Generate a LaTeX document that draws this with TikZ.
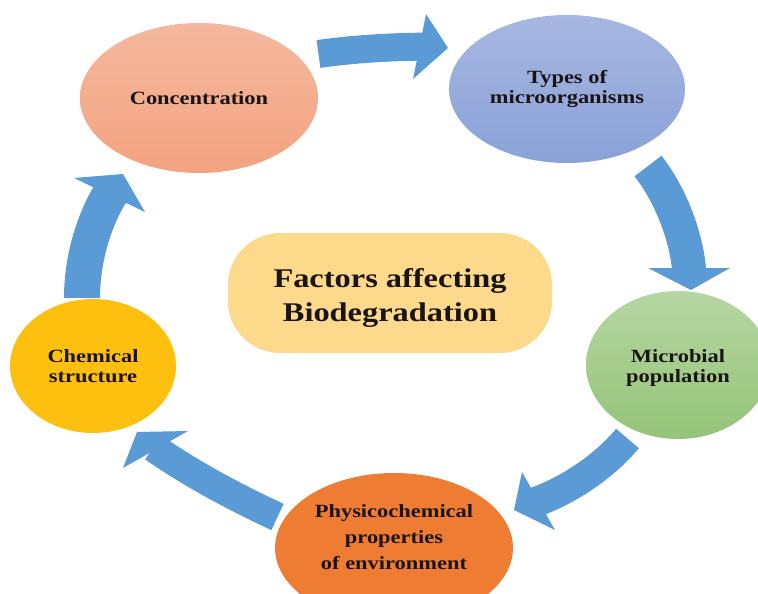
\documentclass[tikz,border=0pt]{standalone}
\usepackage{fontspec}
\setmainfont{Liberation Serif}[FakeStretch=1.2]
\usetikzlibrary{calc,shapes.geometric}

\definecolor{inkc}{HTML}{1A1414}
\definecolor{flowblue}{HTML}{5B9BD5}
\definecolor{concTop}{HTML}{F4B89E}
\definecolor{concBot}{HTML}{F3A37F}
\definecolor{typeTop}{HTML}{A7B7E0}
\definecolor{typeBot}{HTML}{8AA2D8}
\definecolor{chemFill}{HTML}{FEC00E}
\definecolor{microTop}{HTML}{B6D6A3}
\definecolor{microBot}{HTML}{94C478}
\definecolor{physFill}{HTML}{EE7D33}
\definecolor{hubFill}{HTML}{FDD98C}

\begin{document}
\begin{tikzpicture}[x=1pt,y=-1pt,
  bubble/.style={ellipse, inner sep=0pt, align=center, text=inkc,
    font=\bfseries\fontsize{18.7}{20}\selectfont},
  hubbox/.style={rectangle, rounded corners=52pt, fill=hubFill, text=inkc,
    minimum width=324pt, minimum height=120pt, align=center,
    font=\bfseries\fontsize{27}{34}\selectfont},
  flowbody/.style={draw=flowblue, line width=#1},
  flowhead/.style={fill=flowblue}]

\useasboundingbox (0,0) rectangle (758,594);
\clip (0,0) rectangle (758,594);

% arrow 1: Concentration -> Types of microorganisms
\coordinate (a1s) at (318.5,54); \coordinate (a1b) at (419.5,46.5);
\coordinate (a1e) at (448,48);   \coordinate (a1l) at (426,14); \coordinate (a1r) at (413,79);
% arrow 2: Types of microorganisms -> Microbial population
\coordinate (a2s) at (648,166);  \coordinate (a2b) at (689,268);
\coordinate (a2e) at (691,290);  \coordinate (a2l) at (648,268); \coordinate (a2r) at (730,268);
% arrow 3: Microbial population -> Physicochemical properties
\coordinate (a3s) at (627.5,438.5); \coordinate (a3b) at (538.5,501);
\coordinate (a3e) at (514,510);  \coordinate (a3l) at (522,472); \coordinate (a3r) at (555,530);
% arrow 4: Physicochemical properties -> Chemical structure
\coordinate (a4s) at (277.5,517); \coordinate (a4b) at (155.5,449.5);
\coordinate (a4e) at (137,432);  \coordinate (a4l) at (188,431); \coordinate (a4r) at (123,468);
% arrow 5: Chemical structure -> Concentration
\coordinate (a5s) at (82,298);   \coordinate (a5b) at (109.5,195);
\coordinate (a5e) at (123,174);  \coordinate (a5l) at (74,178);  \coordinate (a5r) at (145,212);

% curved bodies (each runs a little into its head)
\draw[flowbody=28pt] (a1s) .. controls +(34,-4.8) and +(-34,0.3) .. ($(a1b)!3pt!(a1e)$);
\draw[flowbody=34pt] (a2s) .. controls +(22.2,28.4) and +(-3.1,-35.9) .. ($(a2b)!3pt!(a2e)$);
\draw[flowbody=30pt] (a3s) .. controls +(-23.1,27.6) and +(33.8,-12.3) .. ($(a3b)!3pt!(a3e)$);
\draw[flowbody=29pt] (a4s) .. controls +(-41.7,-19.4) and +(37.7,26.4) .. ($(a4b)!3pt!(a4e)$);
\draw[flowbody=36pt] (a5s) .. controls +(0,-36) and +(-18.9,30.6) .. ($(a5b)!3pt!(a5e)$);

% heads
\fill[flowhead] (a1e) -- (a1l) -- (a1r) -- cycle;
\fill[flowhead] (a2e) -- (a2l) -- (a2r) -- cycle;
\fill[flowhead] (a3e) -- (a3l) -- (a3r) -- cycle;
\fill[flowhead] (a4e) -- (a4l) -- (a4r) -- cycle;
\fill[flowhead] (a5e) -- (a5l) -- (a5r) -- cycle;

% the factors
\node[bubble, minimum width=238pt, minimum height=150pt,
      top color=concTop, bottom color=concBot] (conc) at (199,98) {Concentration};
\node[bubble, minimum width=236pt, minimum height=148pt,
      top color=typeTop, bottom color=typeBot] (types) at (567,89) {Types of\\microorganisms};
\node[bubble, minimum width=184pt, minimum height=148pt,
      top color=microTop, bottom color=microBot] (micro) at (678,365)
      {\rule{0pt}{19pt}Microbial\\population};
\node[bubble, minimum width=238pt, minimum height=150pt,
      fill=physFill] (phys) at (394,548)
      {Physicochemical\\[6pt]properties\\[6pt]of environment\rule[-22pt]{0pt}{22pt}};
\node[bubble, minimum width=166pt, minimum height=134pt,
      fill=chemFill] (chem) at (93,366) {Chemical\\structure};

% central topic
\node[hubbox] (hub) at (390,293) {\rule{0pt}{29pt}Factors affecting\\Biodegradation};
\end{tikzpicture}
\end{document}
